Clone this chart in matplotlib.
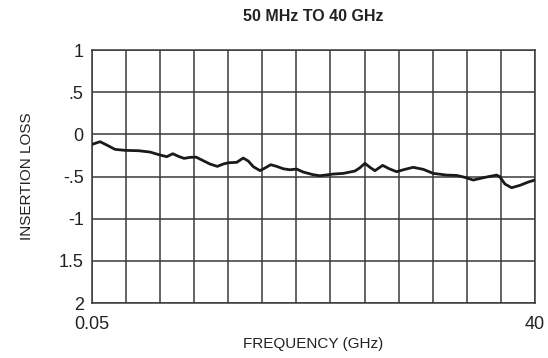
import numpy as np
import matplotlib.pyplot as plt

plt.rcParams['font.family'] = ['Liberation Sans Narrow', 'Liberation Sans', 'DejaVu Sans']

# frequency (GHz) and insertion loss
freq = [0.05, 0.77, 1.38, 2.12, 3.03, 4.23, 5.28, 6.18, 6.79, 7.33, 7.83, 8.35,
        8.89, 9.43, 10.09, 10.69, 11.35, 11.89, 12.34, 13.1, 13.69, 14.15, 14.6,
        15.2, 15.59, 16.17, 16.71, 17.3, 17.9, 18.51, 19.1, 20.01, 20.61, 21.81,
        22.71, 23.77, 24.22, 24.67, 25.12, 25.57, 26.27, 26.86, 27.53, 28.28,
        29.02, 29.93, 30.83, 32.04, 32.94, 33.69, 34.44, 35.49, 36.55, 36.84,
        37.3, 37.9, 38.65, 39.4, 40.0]
loss = [-0.119, -0.087, -0.127, -0.178, -0.19, -0.194, -0.21, -0.245, -0.265,
        -0.23, -0.26, -0.285, -0.273, -0.27, -0.313, -0.352, -0.38, -0.352,
        -0.337, -0.332, -0.281, -0.317, -0.384, -0.43, -0.404, -0.36, -0.38,
        -0.408, -0.42, -0.412, -0.447, -0.479, -0.491, -0.471, -0.463, -0.435,
        -0.396, -0.344, -0.391, -0.431, -0.368, -0.408, -0.443, -0.415, -0.391,
        -0.415, -0.463, -0.483, -0.487, -0.51, -0.542, -0.51, -0.483, -0.503,
        -0.589, -0.633, -0.605, -0.566, -0.542]

y_ticks = [1, 0.5, 0, -0.5, -1, -1.5, -2]
y_labels = ['1', '.5', '0', '-.5', '-1', '1.5', '2']
x_ticks = [0.05, 40]
x_labels = ['0.05', '40']
n_cols = 13

fig = plt.figure(figsize=(5.48, 3.58), dpi=100)
ax = fig.add_axes([0.168, 0.1536, 0.808, 0.7067])

grid_color = '#3a3a3a'
text_color = '#222222'
for gx in np.linspace(x_ticks[0], x_ticks[-1], n_cols + 1):
    ax.axvline(gx, color=grid_color, lw=1.1, zorder=1)
for gy in y_ticks:
    ax.axhline(gy, color=grid_color, lw=1.1, zorder=1)

ax.plot(freq, loss, color='#1a1a1a', lw=2.0, zorder=3)

ax.set_xlim(x_ticks[0], x_ticks[-1])
ax.set_ylim(-2, 1)
ax.set_xticks(x_ticks)
ax.set_xticklabels(x_labels, fontsize=13, color=text_color)
ax.set_yticks(y_ticks)
ax.set_yticklabels(y_labels, fontsize=13, color=text_color)
ax.tick_params(length=0)
ax.tick_params(axis='x', pad=9)
ax.tick_params(axis='y', pad=6)
for s in ax.spines.values():
    s.set_color(grid_color)
    s.set_linewidth(1.1)

ax.set_xlabel('FREQUENCY (GHz)', fontsize=11, labelpad=3, color=text_color)
ax.set_ylabel('INSERTION LOSS', fontsize=11, labelpad=18, color=text_color)
ax.set_title('50 MHz TO 40 GHz', fontsize=11.5, fontweight='bold', pad=21, color=text_color)

fig.savefig('out.png', dpi=100)
